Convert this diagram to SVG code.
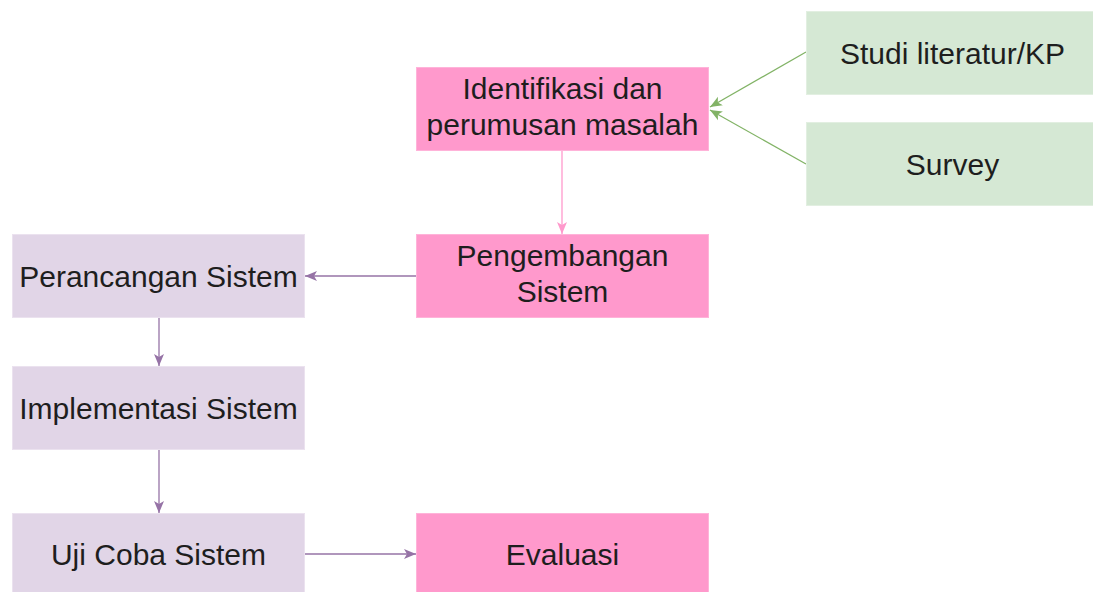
<svg xmlns="http://www.w3.org/2000/svg" width="1093" height="592" viewBox="0 0 1093 592">
<style>
.t{font-family:"Liberation Sans",Arial,sans-serif;font-size:30px;fill:#1e1e1e;text-anchor:middle}
.pink{fill:#ff99cc;stroke:#ffb3d9;stroke-width:1}
.green{fill:#d5e8d4;stroke:#e2efe1;stroke-width:1}
.purple{fill:#e1d5e7;stroke:#ebe2ef;stroke-width:1}
.c{fill:none;stroke-width:1.3}
</style>
<defs>
<marker id="ag" markerUnits="userSpaceOnUse" markerWidth="14" markerHeight="12" refX="12" refY="5" orient="auto" viewBox="0 0 14 10"><path d="M0,0 L12,5 L0,10 L3,5 Z" fill="#82b366"/></marker>
<marker id="ap" markerUnits="userSpaceOnUse" markerWidth="14" markerHeight="12" refX="12" refY="5" orient="auto" viewBox="0 0 14 10"><path d="M0,0 L12,5 L0,10 L3,5 Z" fill="#ff99cc"/></marker>
<marker id="av" markerUnits="userSpaceOnUse" markerWidth="14" markerHeight="12" refX="12" refY="5" orient="auto" viewBox="0 0 14 10"><path d="M0,0 L12,5 L0,10 L3,5 Z" fill="#9673a6"/></marker>
</defs>
<rect width="1093" height="592" fill="#ffffff"/>
<g id="connectors">
<line class="c" x1="806" y1="52" x2="710" y2="107" stroke="#82b366" marker-end="url(#ag)"/>
<line class="c" x1="806" y1="164" x2="710" y2="110" stroke="#82b366" marker-end="url(#ag)"/>
<line class="c" x1="562" y1="150" x2="562" y2="234" stroke="#ff99cc" marker-end="url(#ap)"/>
<line class="c" x1="416" y1="276" x2="305" y2="276" stroke="#9673a6" marker-end="url(#av)"/>
<line class="c" x1="159" y1="318" x2="159" y2="366" stroke="#9673a6" marker-end="url(#av)"/>
<line class="c" x1="159" y1="450" x2="159" y2="513" stroke="#9673a6" marker-end="url(#av)"/>
<line class="c" x1="305" y1="554" x2="416" y2="554" stroke="#9673a6" marker-end="url(#av)"/>
</g>
<g id="identifikasi"><rect class="pink" x="416.5" y="67.5" width="292" height="83"/><text class="t" x="562.5" y="98.5">Identifikasi dan</text><text class="t" x="562.5" y="134.5">perumusan masalah</text></g>
<g id="studi"><rect class="green" x="806.5" y="11.5" width="292" height="83"/><text class="t" x="952.5" y="63.5">Studi literatur/KP</text></g>
<g id="survey"><rect class="green" x="806.5" y="122.5" width="292" height="83"/><text class="t" x="952.5" y="174.5">Survey</text></g>
<g id="pengembangan"><rect class="pink" x="416.5" y="234.5" width="292" height="83"/><text class="t" x="562.5" y="266">Pengembangan</text><text class="t" x="562.5" y="302">Sistem</text></g>
<g id="perancangan"><rect class="purple" x="12.5" y="234.5" width="292" height="83"/><text class="t" x="158.5" y="286.5">Perancangan Sistem</text></g>
<g id="implementasi"><rect class="purple" x="12.5" y="366.5" width="292" height="83"/><text class="t" x="158.5" y="418.5">Implementasi Sistem</text></g>
<g id="ujicoba"><rect class="purple" x="12.5" y="513.5" width="292" height="83"/><text class="t" x="158.5" y="565">Uji Coba Sistem</text></g>
<g id="evaluasi"><rect class="pink" x="416.5" y="513.5" width="292" height="83"/><text class="t" x="562.5" y="565">Evaluasi</text></g>
</svg>
